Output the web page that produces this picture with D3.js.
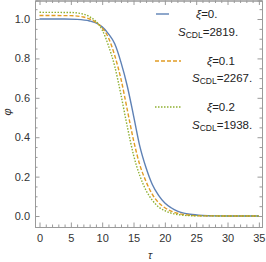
<!DOCTYPE html>
<html><head><meta charset="utf-8">
<script src="https://cdn.jsdelivr.net/npm/d3@7"></script>
<style>body{margin:0;background:#fff}svg{display:block}text{font-family:"Liberation Sans",Arial,sans-serif}</style>
</head><body><svg id="c" width="266" height="262"></svg>
<script>
// data
const tau0 = [0,4,6,8,9,10,11,12,13,14,15,16,17,18,19,20,21,22,23,24,26,28,35];
const phi0 = [1.000,1.000,0.998,0.990,0.980,0.960,0.925,0.874,0.780,0.660,0.510,0.355,0.245,0.160,0.105,0.066,0.042,0.025,0.015,0.009,0.003,0.001,0.000];
const tau1 = [0,5,7,8,9,10,11,12,13,14,15,16,17,18,19,20,21,22,23,24,26,35];
const phi1 = [1.018,1.017,1.010,1.000,0.983,0.955,0.905,0.815,0.695,0.540,0.385,0.260,0.175,0.110,0.068,0.042,0.025,0.014,0.008,0.004,0.001,0.000];
const tau2 = [0,5,7,8,9,10,11,12,13,14,15,16,17,18,19,20,21,22,23,25,35];
const phi2 = [1.034,1.033,1.025,1.012,0.988,0.945,0.865,0.760,0.615,0.455,0.310,0.205,0.130,0.080,0.046,0.027,0.015,0.008,0.004,0.001,0.000];
const xiLabels = ["0.","0.1","0.2"];
const sLabels = ["2819.","2267.","1938."];
const xTicks = [0,5,10,15,20,25,30,35];
const yTicks = [0,0.2,0.4,0.6,0.8,1.0];
const colors = ["#5E81B5","#E19C24","#8FB032"];
const dashes = [null,"4,2","1.5,1.5"];

const svg = d3.select("#c");
const L=35, R=262, T=0.5, B=227;
const x = d3.scaleLinear().domain([-0.72,35.5]).range([L,R]);
const y = d3.scaleLinear().domain([-0.0557,1.094]).range([B,T]);

const frameCol="#9a9a9a";
function styleAxis(g){g.select(".domain").attr("stroke",frameCol);g.selectAll(".tick line").attr("stroke",frameCol);g.selectAll("text").attr("fill","#333").style("font-size","11px").style("font-family","'Liberation Sans',Arial,sans-serif");}
const xMinor = d3.range(0,35.01,1).filter(v=>v%5!==0);
const yMinor = d3.range(0,1.0501,0.05).map(v=>+v.toFixed(2)).filter(v=>Math.round(v*100)%20!==0);

svg.append("g").attr("transform",`translate(0,${B})`).call(d3.axisBottom(x).tickValues(xTicks).tickSize(-4.5).tickPadding(7).tickFormat(d3.format("d"))).call(styleAxis);
svg.append("g").attr("transform",`translate(0,${B})`).call(d3.axisBottom(x).tickValues(xMinor).tickSize(-2.5).tickFormat("")).call(styleAxis);
svg.append("g").attr("transform",`translate(0,${T})`).call(d3.axisTop(x).tickValues(xTicks).tickSize(-4.5).tickFormat("")).call(styleAxis);
svg.append("g").attr("transform",`translate(0,${T})`).call(d3.axisTop(x).tickValues(xMinor).tickSize(-2.5).tickFormat("")).call(styleAxis);
svg.append("g").attr("transform",`translate(${L},0)`).call(d3.axisLeft(y).tickValues(yTicks).tickSize(-4.5).tickPadding(5).tickFormat(d3.format(".1f"))).call(styleAxis);
svg.append("g").attr("transform",`translate(${L},0)`).call(d3.axisLeft(y).tickValues(yMinor).tickSize(-2.5).tickFormat("")).call(styleAxis);
svg.append("g").attr("transform",`translate(${R},0)`).call(d3.axisRight(y).tickValues(yTicks).tickSize(-4.5).tickFormat("")).call(styleAxis);
svg.append("g").attr("transform",`translate(${R},0)`).call(d3.axisRight(y).tickValues(yMinor).tickSize(-2.5).tickFormat("")).call(styleAxis);

const series = [[tau0,phi0],[tau1,phi1],[tau2,phi2]];
const line = d3.line().x(d=>x(d[0])).y(d=>y(d[1])).curve(d3.curveMonotoneX);
series.forEach((s,i)=>{
  const pts = s[0].map((t,j)=>[t,s[1][j]]);
  svg.append("path").datum(pts).attr("d",line).attr("fill","none")
    .attr("stroke",colors[i]).attr("stroke-width",1.4).attr("stroke-dasharray",dashes[i]);
});

// axis labels
svg.append("text").attr("x",150).attr("y",259).attr("text-anchor","middle").attr("fill","#333").style("font-size","11px").style("font-style","italic").text("τ");
svg.append("text").attr("transform","translate(11,112) rotate(-90)").attr("text-anchor","middle").attr("fill","#333").style("font-size","11px").style("font-style","italic").text("φ");

// legend
const lg = [{ly:14,x1:156,x2:169,xiX:196,sX:178,sY:32},{ly:61,x1:155,x2:181,xiX:207,sX:192,sY:78},{ly:107,x1:155,x2:181,xiX:207,sX:192,sY:125}];
lg.forEach((p,i)=>{
  svg.append("line").attr("x1",p.x1).attr("x2",p.x2).attr("y1",p.ly).attr("y2",p.ly).attr("stroke",colors[i]).attr("stroke-width",1.4).attr("stroke-dasharray",dashes[i]);
  const t1 = svg.append("text").attr("x",p.xiX).attr("y",p.ly+4).attr("fill","#222").style("font-size","11.5px");
  t1.append("tspan").style("font-style","italic").text("ξ");
  t1.append("tspan").text("="+xiLabels[i]);
  const t2 = svg.append("text").attr("x",p.sX).attr("y",p.sY+4).attr("fill","#222").style("font-size","11.5px");
  t2.append("tspan").style("font-style","italic").text("S");
  t2.append("tspan").attr("dy",2).style("font-size","8.5px").text("CDL");
  t2.append("tspan").attr("dy",-2).text("="+sLabels[i]);
});
</script></body></html>
